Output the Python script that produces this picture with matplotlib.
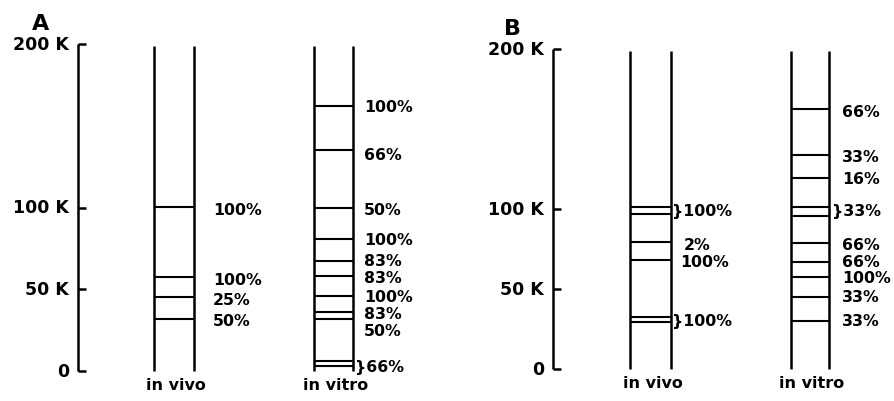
import matplotlib
matplotlib.use("Agg")
import matplotlib.pyplot as plt

# ---------------- data (molecular weight in K) ----------------
scale_ticks = [0, 50, 100, 200]
scale_labels = ["0", "50 K", "100 K", "200 K"]
lane_names = ["in vivo", "in vitro"]

A_vivo_bands = [100.3, 57.5, 45.3, 31.8]
A_vivo_labels = ["100%", "100%", "25%", "50%"]

A_vitro_bands = [162.0, 135.0, 99.7, 80.7, 67.3, 58.1, 45.9, 36.1, 31.8, 6.1, 3.1]
A_vitro_labels = ["100%", "66%", "50%", "100%", "83%", "83%", "100%", "83%", "50%", "}66%"]

B_vivo_bands = [101.3, 96.9, 79.4, 68.1, 32.5, 29.4]
B_vivo_labels = ["}100%", "2%", "100%", "}100%"]

B_vitro_bands = [162.5, 133.8, 119.4, 101.3, 95.6, 78.8, 66.9, 57.5, 45.0, 30.0]
B_vitro_labels = ["66%", "33%", "16%", "}33%", "66%", "66%", "100%", "33%", "33%"]

# ---------------- layout (pixel x positions, label y in K) ----------------
A_vivo_label_y = [98.5, 55.7, 44.0, 30.6]
A_vitro_label_y = [161.5, 132.7, 98.5, 80.7, 67.3, 56.9, 45.3, 34.9, 24.5, 3.0]
A_vitro_label_x = [364] * 9 + [355]
B_vivo_label_y = [98.8, 77.5, 67.0, 30.6]
B_vivo_label_x = [672, 684, 680, 672]
B_vitro_label_y = [161, 133, 118.8, 98.8, 78, 67, 57, 45, 30]
B_vitro_label_x = [842, 842, 842, 832, 842, 842, 842, 842, 842]

W, H = 894, 402
fig = plt.figure(figsize=(W / 100, H / 100), dpi=100)
fig.patch.set_facecolor("white")

FONT = dict(family="DejaVu Sans", fontweight="bold", color="black")
LW = 1.8
BLW = 1.5
PCT_SIZE = 11.3


def make_axes(zero_px, px_per_k):
    ax = fig.add_axes([0, 0, 1, 1])
    ax.set_xlim(0, W)
    top_k = zero_px / px_per_k
    bot_k = -(H - zero_px) / px_per_k
    ax.set_ylim(bot_k, top_k)
    ax.axis("off")
    ax.patch.set_alpha(0)
    return ax


def draw_panel(ax, letter, letter_xy, axis_x, label_right, vivo, vitro,
               vivo_bands, vitro_bands, vivo_labels, vivo_label_x, vivo_label_y,
               vitro_labels, vitro_label_x, vitro_label_y):
    # scale bar
    ax.vlines(axis_x, scale_ticks[0], scale_ticks[-1], color="black", lw=LW)
    ax.hlines(scale_ticks, axis_x, axis_x + 8, color="black", lw=LW)
    for t, lab in zip(scale_ticks, scale_labels):
        ax.text(label_right, t, lab, ha="right", va="center", fontsize=12.5, **FONT)
    ax.text(letter_xy[0], letter_xy[1], letter, ha="center", va="center", fontsize=16, **FONT)
    # lanes
    for (xl, xr), bands, name in [(vivo, vivo_bands, lane_names[0]),
                                  (vitro, vitro_bands, lane_names[1])]:
        ax.vlines([xl, xr], 0, 199, color="black", lw=LW)
        ax.hlines(bands, xl, xr, color="black", lw=BLW)
        ax.text((xl + xr) / 2 + 2, -8.5, name, ha="center", va="center", fontsize=11.5, **FONT)
    for lab, x, y in zip(vivo_labels, vivo_label_x, vivo_label_y):
        ax.text(x, y, lab, ha="left", va="center", fontsize=PCT_SIZE, **FONT)
    for lab, x, y in zip(vitro_labels, vitro_label_x, vitro_label_y):
        ax.text(x, y, lab, ha="left", va="center", fontsize=PCT_SIZE, **FONT)


axA = make_axes(372, 1.635)
draw_panel(axA, "A", (41, 213), 78, 69, (154, 194), (314, 353),
           A_vivo_bands, A_vitro_bands,
           A_vivo_labels, [213] * 4, A_vivo_label_y,
           A_vitro_labels, A_vitro_label_x, A_vitro_label_y)

axB = make_axes(370, 1.6)
draw_panel(axB, "B", (513, 213), 553, 544, (630, 671), (791, 829),
           B_vivo_bands, B_vitro_bands,
           B_vivo_labels, B_vivo_label_x, B_vivo_label_y,
           B_vitro_labels, B_vitro_label_x, B_vitro_label_y)

fig.savefig("out.png", dpi=100, facecolor="white")
